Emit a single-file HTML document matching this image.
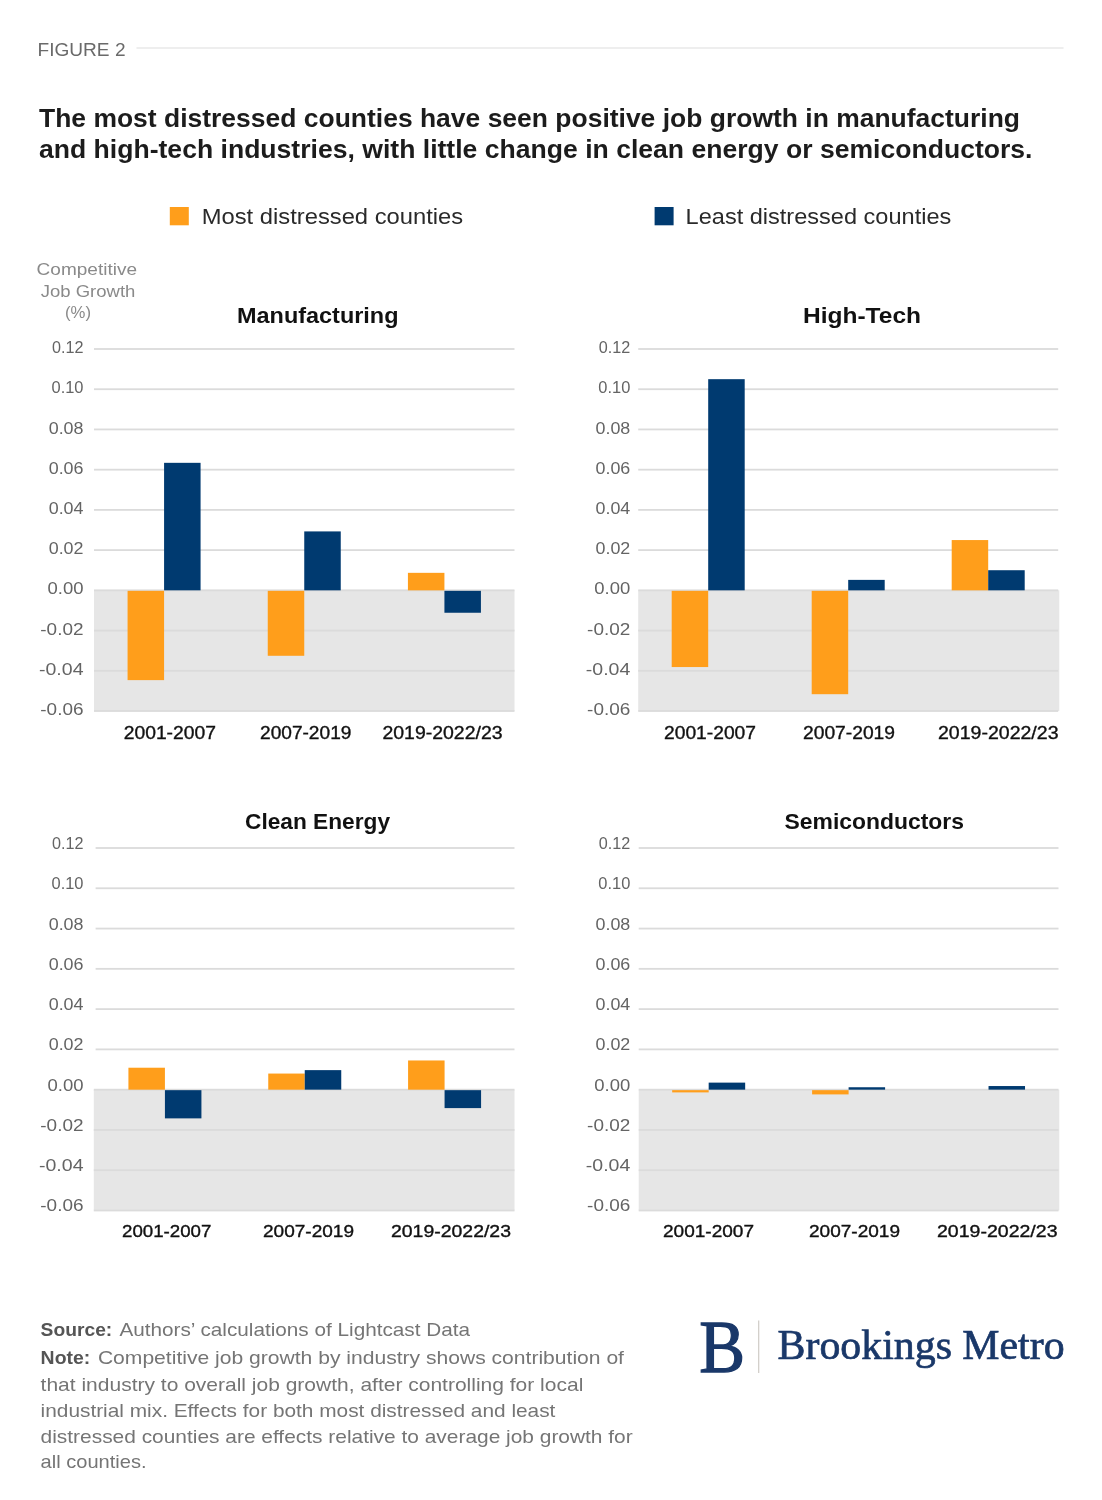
<!DOCTYPE html>
<html lang="en"><head><meta charset="utf-8"><title>Figure 2</title>
<style>html,body{margin:0;padding:0;background:#fff}svg{display:block}</style></head>
<body>
<svg width="1102" height="1500" viewBox="0 0 1102 1500">
<rect width="1102" height="1500" fill="#ffffff"/>
<text x="37.5" y="56" font-family='"Liberation Sans", sans-serif' font-size="18.7" font-weight="normal" fill="#6a6a6a" text-anchor="start" textLength="88" lengthAdjust="spacingAndGlyphs">FIGURE 2</text>
<rect x="136.50" y="47.00" width="927.00" height="2.00" fill="#EEEEEE"/>
<text x="39" y="127.3" font-family='"Liberation Sans", sans-serif' font-size="26" font-weight="bold" fill="#1c1c1c" text-anchor="start" textLength="981" lengthAdjust="spacingAndGlyphs">The most distressed counties have seen positive job growth in manufacturing</text>
<text x="39" y="158.2" font-family='"Liberation Sans", sans-serif' font-size="26" font-weight="bold" fill="#1c1c1c" text-anchor="start" textLength="993.5" lengthAdjust="spacingAndGlyphs">and high-tech industries, with little change in clean energy or semiconductors.</text>
<rect x="169.80" y="207.00" width="19.00" height="18.30" fill="#FF9E1B"/>
<text x="201.7" y="224.3" font-family='"Liberation Sans", sans-serif' font-size="21.5" font-weight="normal" fill="#2a2a2a" text-anchor="start" textLength="261.5" lengthAdjust="spacingAndGlyphs">Most distressed counties</text>
<rect x="654.60" y="207.00" width="19.00" height="18.30" fill="#003A70"/>
<text x="685.6" y="224.3" font-family='"Liberation Sans", sans-serif' font-size="21.5" font-weight="normal" fill="#2a2a2a" text-anchor="start" textLength="265.7" lengthAdjust="spacingAndGlyphs">Least distressed counties</text>
<text x="36.6" y="274.8" font-family='"Liberation Sans", sans-serif' font-size="17" font-weight="normal" fill="#8a8a8a" text-anchor="start" textLength="100.4" lengthAdjust="spacingAndGlyphs">Competitive</text>
<text x="40.7" y="296.5" font-family='"Liberation Sans", sans-serif' font-size="17" font-weight="normal" fill="#8a8a8a" text-anchor="start" textLength="94.7" lengthAdjust="spacingAndGlyphs">Job Growth</text>
<text x="65" y="317.6" font-family='"Liberation Sans", sans-serif' font-size="17" font-weight="normal" fill="#8a8a8a" text-anchor="start" textLength="26" lengthAdjust="spacingAndGlyphs">(%)</text>
<rect x="94.00" y="590.33" width="420.50" height="120.67" fill="#E6E6E6"/>
<rect x="94.00" y="348.10" width="420.50" height="1.80" fill="#DBDBDB"/>
<text x="52.0" y="353.1" font-family='"Liberation Sans", sans-serif' font-size="17.3" font-weight="normal" fill="#646464" text-anchor="start" textLength="31.5" lengthAdjust="spacingAndGlyphs">0.12</text>
<rect x="94.00" y="388.32" width="420.50" height="1.80" fill="#DBDBDB"/>
<text x="51.5" y="393.3" font-family='"Liberation Sans", sans-serif' font-size="17.3" font-weight="normal" fill="#646464" text-anchor="start" textLength="32" lengthAdjust="spacingAndGlyphs">0.10</text>
<rect x="94.00" y="428.54" width="420.50" height="1.80" fill="#DBDBDB"/>
<text x="48.7" y="433.5" font-family='"Liberation Sans", sans-serif' font-size="17.3" font-weight="normal" fill="#646464" text-anchor="start" textLength="34.8" lengthAdjust="spacingAndGlyphs">0.08</text>
<rect x="94.00" y="468.77" width="420.50" height="1.80" fill="#DBDBDB"/>
<text x="48.7" y="473.8" font-family='"Liberation Sans", sans-serif' font-size="17.3" font-weight="normal" fill="#646464" text-anchor="start" textLength="34.8" lengthAdjust="spacingAndGlyphs">0.06</text>
<rect x="94.00" y="508.99" width="420.50" height="1.80" fill="#DBDBDB"/>
<text x="48.7" y="514.0" font-family='"Liberation Sans", sans-serif' font-size="17.3" font-weight="normal" fill="#646464" text-anchor="start" textLength="34.8" lengthAdjust="spacingAndGlyphs">0.04</text>
<rect x="94.00" y="549.21" width="420.50" height="1.80" fill="#DBDBDB"/>
<text x="48.7" y="554.2" font-family='"Liberation Sans", sans-serif' font-size="17.3" font-weight="normal" fill="#646464" text-anchor="start" textLength="34.8" lengthAdjust="spacingAndGlyphs">0.02</text>
<rect x="94.00" y="589.43" width="420.50" height="1.80" fill="#DBDBDB"/>
<text x="47.5" y="594.4" font-family='"Liberation Sans", sans-serif' font-size="17.3" font-weight="normal" fill="#646464" text-anchor="start" textLength="36" lengthAdjust="spacingAndGlyphs">0.00</text>
<rect x="94.00" y="629.66" width="420.50" height="1.80" fill="#DBDBDB"/>
<text x="40.3" y="634.7" font-family='"Liberation Sans", sans-serif' font-size="17.3" font-weight="normal" fill="#646464" text-anchor="start" textLength="43.2" lengthAdjust="spacingAndGlyphs">-0.02</text>
<rect x="94.00" y="669.88" width="420.50" height="1.80" fill="#DBDBDB"/>
<text x="39.0" y="674.9" font-family='"Liberation Sans", sans-serif' font-size="17.3" font-weight="normal" fill="#646464" text-anchor="start" textLength="44.5" lengthAdjust="spacingAndGlyphs">-0.04</text>
<rect x="94.00" y="710.10" width="420.50" height="1.80" fill="#DBDBDB"/>
<text x="40.3" y="715.1" font-family='"Liberation Sans", sans-serif' font-size="17.3" font-weight="normal" fill="#646464" text-anchor="start" textLength="43.2" lengthAdjust="spacingAndGlyphs">-0.06</text>
<rect x="127.58" y="590.83" width="36.50" height="89.29" fill="#FF9E1B"/>
<rect x="164.08" y="462.83" width="36.50" height="127.50" fill="#003A70"/>
<rect x="267.75" y="590.83" width="36.50" height="64.96" fill="#FF9E1B"/>
<rect x="304.25" y="531.41" width="36.50" height="58.93" fill="#003A70"/>
<rect x="407.92" y="572.84" width="36.50" height="17.50" fill="#FF9E1B"/>
<rect x="444.42" y="590.83" width="36.50" height="21.92" fill="#003A70"/>
<text x="237" y="323" font-family='"Liberation Sans", sans-serif' font-size="22" font-weight="bold" fill="#111" text-anchor="start" textLength="161.5" lengthAdjust="spacingAndGlyphs">Manufacturing</text>
<text x="123.7" y="738.5" font-family='"Liberation Sans", sans-serif' font-size="17.5" font-weight="normal" fill="#111" text-anchor="start" textLength="92.3" lengthAdjust="spacingAndGlyphs" stroke="#111" stroke-width="0.35">2001-2007</text>
<text x="260" y="738.5" font-family='"Liberation Sans", sans-serif' font-size="17.5" font-weight="normal" fill="#111" text-anchor="start" textLength="91.39999999999998" lengthAdjust="spacingAndGlyphs" stroke="#111" stroke-width="0.35">2007-2019</text>
<text x="382.4" y="738.5" font-family='"Liberation Sans", sans-serif' font-size="17.5" font-weight="normal" fill="#111" text-anchor="start" textLength="120.20000000000005" lengthAdjust="spacingAndGlyphs" stroke="#111" stroke-width="0.35">2019-2022/23</text>
<rect x="638.20" y="590.33" width="421.10" height="120.67" fill="#E6E6E6"/>
<rect x="638.20" y="348.10" width="420.00" height="1.80" fill="#DBDBDB"/>
<text x="598.8" y="353.1" font-family='"Liberation Sans", sans-serif' font-size="17.3" font-weight="normal" fill="#646464" text-anchor="start" textLength="31.5" lengthAdjust="spacingAndGlyphs">0.12</text>
<rect x="638.20" y="388.32" width="420.00" height="1.80" fill="#DBDBDB"/>
<text x="598.3" y="393.3" font-family='"Liberation Sans", sans-serif' font-size="17.3" font-weight="normal" fill="#646464" text-anchor="start" textLength="32" lengthAdjust="spacingAndGlyphs">0.10</text>
<rect x="638.20" y="428.54" width="420.00" height="1.80" fill="#DBDBDB"/>
<text x="595.5" y="433.5" font-family='"Liberation Sans", sans-serif' font-size="17.3" font-weight="normal" fill="#646464" text-anchor="start" textLength="34.8" lengthAdjust="spacingAndGlyphs">0.08</text>
<rect x="638.20" y="468.77" width="420.00" height="1.80" fill="#DBDBDB"/>
<text x="595.5" y="473.8" font-family='"Liberation Sans", sans-serif' font-size="17.3" font-weight="normal" fill="#646464" text-anchor="start" textLength="34.8" lengthAdjust="spacingAndGlyphs">0.06</text>
<rect x="638.20" y="508.99" width="420.00" height="1.80" fill="#DBDBDB"/>
<text x="595.5" y="514.0" font-family='"Liberation Sans", sans-serif' font-size="17.3" font-weight="normal" fill="#646464" text-anchor="start" textLength="34.8" lengthAdjust="spacingAndGlyphs">0.04</text>
<rect x="638.20" y="549.21" width="420.00" height="1.80" fill="#DBDBDB"/>
<text x="595.5" y="554.2" font-family='"Liberation Sans", sans-serif' font-size="17.3" font-weight="normal" fill="#646464" text-anchor="start" textLength="34.8" lengthAdjust="spacingAndGlyphs">0.02</text>
<rect x="638.20" y="589.43" width="420.00" height="1.80" fill="#DBDBDB"/>
<text x="594.3" y="594.4" font-family='"Liberation Sans", sans-serif' font-size="17.3" font-weight="normal" fill="#646464" text-anchor="start" textLength="36" lengthAdjust="spacingAndGlyphs">0.00</text>
<rect x="638.20" y="629.66" width="420.00" height="1.80" fill="#DBDBDB"/>
<text x="587.0999999999999" y="634.7" font-family='"Liberation Sans", sans-serif' font-size="17.3" font-weight="normal" fill="#646464" text-anchor="start" textLength="43.2" lengthAdjust="spacingAndGlyphs">-0.02</text>
<rect x="638.20" y="669.88" width="420.00" height="1.80" fill="#DBDBDB"/>
<text x="585.8" y="674.9" font-family='"Liberation Sans", sans-serif' font-size="17.3" font-weight="normal" fill="#646464" text-anchor="start" textLength="44.5" lengthAdjust="spacingAndGlyphs">-0.04</text>
<rect x="638.20" y="710.10" width="420.00" height="1.80" fill="#DBDBDB"/>
<text x="587.0999999999999" y="715.1" font-family='"Liberation Sans", sans-serif' font-size="17.3" font-weight="normal" fill="#646464" text-anchor="start" textLength="43.2" lengthAdjust="spacingAndGlyphs">-0.06</text>
<rect x="671.70" y="590.83" width="36.50" height="76.22" fill="#FF9E1B"/>
<rect x="708.20" y="379.17" width="36.50" height="211.17" fill="#003A70"/>
<rect x="811.70" y="590.83" width="36.50" height="103.37" fill="#FF9E1B"/>
<rect x="848.20" y="579.88" width="36.50" height="10.46" fill="#003A70"/>
<rect x="951.70" y="540.06" width="36.50" height="50.28" fill="#FF9E1B"/>
<rect x="988.20" y="570.22" width="36.50" height="20.11" fill="#003A70"/>
<text x="803" y="323" font-family='"Liberation Sans", sans-serif' font-size="22" font-weight="bold" fill="#111" text-anchor="start" textLength="118" lengthAdjust="spacingAndGlyphs">High-Tech</text>
<text x="664" y="738.5" font-family='"Liberation Sans", sans-serif' font-size="17.5" font-weight="normal" fill="#111" text-anchor="start" textLength="92" lengthAdjust="spacingAndGlyphs" stroke="#111" stroke-width="0.35">2001-2007</text>
<text x="803" y="738.5" font-family='"Liberation Sans", sans-serif' font-size="17.5" font-weight="normal" fill="#111" text-anchor="start" textLength="92" lengthAdjust="spacingAndGlyphs" stroke="#111" stroke-width="0.35">2007-2019</text>
<text x="938" y="738.5" font-family='"Liberation Sans", sans-serif' font-size="17.5" font-weight="normal" fill="#111" text-anchor="start" textLength="120.5" lengthAdjust="spacingAndGlyphs" stroke="#111" stroke-width="0.35">2019-2022/23</text>
<rect x="93.80" y="1089.67" width="420.70" height="120.83" fill="#E6E6E6"/>
<rect x="95.60" y="847.10" width="418.90" height="1.80" fill="#DBDBDB"/>
<text x="52.0" y="848.9" font-family='"Liberation Sans", sans-serif' font-size="17.3" font-weight="normal" fill="#646464" text-anchor="start" textLength="31.5" lengthAdjust="spacingAndGlyphs">0.12</text>
<rect x="95.60" y="887.38" width="418.90" height="1.80" fill="#DBDBDB"/>
<text x="51.5" y="889.2" font-family='"Liberation Sans", sans-serif' font-size="17.3" font-weight="normal" fill="#646464" text-anchor="start" textLength="32" lengthAdjust="spacingAndGlyphs">0.10</text>
<rect x="95.60" y="927.66" width="418.90" height="1.80" fill="#DBDBDB"/>
<text x="48.7" y="929.5" font-family='"Liberation Sans", sans-serif' font-size="17.3" font-weight="normal" fill="#646464" text-anchor="start" textLength="34.8" lengthAdjust="spacingAndGlyphs">0.08</text>
<rect x="95.60" y="967.93" width="418.90" height="1.80" fill="#DBDBDB"/>
<text x="48.7" y="969.7" font-family='"Liberation Sans", sans-serif' font-size="17.3" font-weight="normal" fill="#646464" text-anchor="start" textLength="34.8" lengthAdjust="spacingAndGlyphs">0.06</text>
<rect x="95.60" y="1008.21" width="418.90" height="1.80" fill="#DBDBDB"/>
<text x="48.7" y="1010.0" font-family='"Liberation Sans", sans-serif' font-size="17.3" font-weight="normal" fill="#646464" text-anchor="start" textLength="34.8" lengthAdjust="spacingAndGlyphs">0.04</text>
<rect x="95.60" y="1048.49" width="418.90" height="1.80" fill="#DBDBDB"/>
<text x="48.7" y="1050.3" font-family='"Liberation Sans", sans-serif' font-size="17.3" font-weight="normal" fill="#646464" text-anchor="start" textLength="34.8" lengthAdjust="spacingAndGlyphs">0.02</text>
<rect x="93.80" y="1088.77" width="420.70" height="1.80" fill="#DBDBDB"/>
<text x="47.5" y="1090.6" font-family='"Liberation Sans", sans-serif' font-size="17.3" font-weight="normal" fill="#646464" text-anchor="start" textLength="36" lengthAdjust="spacingAndGlyphs">0.00</text>
<rect x="93.80" y="1129.04" width="420.70" height="1.80" fill="#DBDBDB"/>
<text x="40.3" y="1130.8" font-family='"Liberation Sans", sans-serif' font-size="17.3" font-weight="normal" fill="#646464" text-anchor="start" textLength="43.2" lengthAdjust="spacingAndGlyphs">-0.02</text>
<rect x="93.80" y="1169.32" width="420.70" height="1.80" fill="#DBDBDB"/>
<text x="39.0" y="1171.1" font-family='"Liberation Sans", sans-serif' font-size="17.3" font-weight="normal" fill="#646464" text-anchor="start" textLength="44.5" lengthAdjust="spacingAndGlyphs">-0.04</text>
<rect x="93.80" y="1209.60" width="420.70" height="1.80" fill="#DBDBDB"/>
<text x="40.3" y="1211.4" font-family='"Liberation Sans", sans-serif' font-size="17.3" font-weight="normal" fill="#646464" text-anchor="start" textLength="43.2" lengthAdjust="spacingAndGlyphs">-0.06</text>
<rect x="128.42" y="1067.72" width="36.50" height="21.95" fill="#FF9E1B"/>
<rect x="164.92" y="1090.17" width="36.50" height="28.20" fill="#003A70"/>
<rect x="268.25" y="1073.56" width="36.50" height="16.11" fill="#FF9E1B"/>
<rect x="304.75" y="1070.13" width="36.50" height="19.53" fill="#003A70"/>
<rect x="408.08" y="1060.47" width="36.50" height="29.20" fill="#FF9E1B"/>
<rect x="444.58" y="1090.17" width="36.50" height="17.93" fill="#003A70"/>
<text x="245" y="829" font-family='"Liberation Sans", sans-serif' font-size="22" font-weight="bold" fill="#111" text-anchor="start" textLength="145" lengthAdjust="spacingAndGlyphs">Clean Energy</text>
<text x="122" y="1236.8" font-family='"Liberation Sans", sans-serif' font-size="16.5" font-weight="normal" fill="#111" text-anchor="start" textLength="89.4" lengthAdjust="spacingAndGlyphs" stroke="#111" stroke-width="0.35">2001-2007</text>
<text x="263" y="1236.8" font-family='"Liberation Sans", sans-serif' font-size="16.5" font-weight="normal" fill="#111" text-anchor="start" textLength="91" lengthAdjust="spacingAndGlyphs" stroke="#111" stroke-width="0.35">2007-2019</text>
<text x="391" y="1236.8" font-family='"Liberation Sans", sans-serif' font-size="16.5" font-weight="normal" fill="#111" text-anchor="start" textLength="120" lengthAdjust="spacingAndGlyphs" stroke="#111" stroke-width="0.35">2019-2022/23</text>
<rect x="638.70" y="1089.67" width="420.60" height="120.83" fill="#E6E6E6"/>
<rect x="638.70" y="847.10" width="419.80" height="1.80" fill="#DBDBDB"/>
<text x="598.8" y="848.9" font-family='"Liberation Sans", sans-serif' font-size="17.3" font-weight="normal" fill="#646464" text-anchor="start" textLength="31.5" lengthAdjust="spacingAndGlyphs">0.12</text>
<rect x="638.70" y="887.38" width="419.80" height="1.80" fill="#DBDBDB"/>
<text x="598.3" y="889.2" font-family='"Liberation Sans", sans-serif' font-size="17.3" font-weight="normal" fill="#646464" text-anchor="start" textLength="32" lengthAdjust="spacingAndGlyphs">0.10</text>
<rect x="638.70" y="927.66" width="419.80" height="1.80" fill="#DBDBDB"/>
<text x="595.5" y="929.5" font-family='"Liberation Sans", sans-serif' font-size="17.3" font-weight="normal" fill="#646464" text-anchor="start" textLength="34.8" lengthAdjust="spacingAndGlyphs">0.08</text>
<rect x="638.70" y="967.93" width="419.80" height="1.80" fill="#DBDBDB"/>
<text x="595.5" y="969.7" font-family='"Liberation Sans", sans-serif' font-size="17.3" font-weight="normal" fill="#646464" text-anchor="start" textLength="34.8" lengthAdjust="spacingAndGlyphs">0.06</text>
<rect x="638.70" y="1008.21" width="419.80" height="1.80" fill="#DBDBDB"/>
<text x="595.5" y="1010.0" font-family='"Liberation Sans", sans-serif' font-size="17.3" font-weight="normal" fill="#646464" text-anchor="start" textLength="34.8" lengthAdjust="spacingAndGlyphs">0.04</text>
<rect x="638.70" y="1048.49" width="419.80" height="1.80" fill="#DBDBDB"/>
<text x="595.5" y="1050.3" font-family='"Liberation Sans", sans-serif' font-size="17.3" font-weight="normal" fill="#646464" text-anchor="start" textLength="34.8" lengthAdjust="spacingAndGlyphs">0.02</text>
<rect x="638.70" y="1088.77" width="419.80" height="1.80" fill="#DBDBDB"/>
<text x="594.3" y="1090.6" font-family='"Liberation Sans", sans-serif' font-size="17.3" font-weight="normal" fill="#646464" text-anchor="start" textLength="36" lengthAdjust="spacingAndGlyphs">0.00</text>
<rect x="638.70" y="1129.04" width="419.80" height="1.80" fill="#DBDBDB"/>
<text x="587.0999999999999" y="1130.8" font-family='"Liberation Sans", sans-serif' font-size="17.3" font-weight="normal" fill="#646464" text-anchor="start" textLength="43.2" lengthAdjust="spacingAndGlyphs">-0.02</text>
<rect x="638.70" y="1169.32" width="419.80" height="1.80" fill="#DBDBDB"/>
<text x="585.8" y="1171.1" font-family='"Liberation Sans", sans-serif' font-size="17.3" font-weight="normal" fill="#646464" text-anchor="start" textLength="44.5" lengthAdjust="spacingAndGlyphs">-0.04</text>
<rect x="638.70" y="1209.60" width="419.80" height="1.80" fill="#DBDBDB"/>
<text x="587.0999999999999" y="1211.4" font-family='"Liberation Sans", sans-serif' font-size="17.3" font-weight="normal" fill="#646464" text-anchor="start" textLength="43.2" lengthAdjust="spacingAndGlyphs">-0.06</text>
<rect x="672.17" y="1090.17" width="36.50" height="2.22" fill="#FF9E1B"/>
<rect x="708.67" y="1082.62" width="36.50" height="7.05" fill="#003A70"/>
<rect x="812.10" y="1090.17" width="36.50" height="4.23" fill="#FF9E1B"/>
<rect x="848.60" y="1087.25" width="36.50" height="2.42" fill="#003A70"/>
<rect x="988.53" y="1086.04" width="36.50" height="3.62" fill="#003A70"/>
<text x="784.5" y="829" font-family='"Liberation Sans", sans-serif' font-size="22" font-weight="bold" fill="#111" text-anchor="start" textLength="179.5" lengthAdjust="spacingAndGlyphs">Semiconductors</text>
<text x="663" y="1236.8" font-family='"Liberation Sans", sans-serif' font-size="16.5" font-weight="normal" fill="#111" text-anchor="start" textLength="91" lengthAdjust="spacingAndGlyphs" stroke="#111" stroke-width="0.35">2001-2007</text>
<text x="809" y="1236.8" font-family='"Liberation Sans", sans-serif' font-size="16.5" font-weight="normal" fill="#111" text-anchor="start" textLength="91" lengthAdjust="spacingAndGlyphs" stroke="#111" stroke-width="0.35">2007-2019</text>
<text x="937" y="1236.8" font-family='"Liberation Sans", sans-serif' font-size="16.5" font-weight="normal" fill="#111" text-anchor="start" textLength="120.5" lengthAdjust="spacingAndGlyphs" stroke="#111" stroke-width="0.35">2019-2022/23</text>
<text x="40.6" y="1336" font-family='"Liberation Sans", sans-serif' font-size="18.6" font-weight="bold" fill="#555" text-anchor="start" textLength="71.7" lengthAdjust="spacingAndGlyphs">Source:</text>
<text x="119.4" y="1336" font-family='"Liberation Sans", sans-serif' font-size="18.6" font-weight="normal" fill="#757575" text-anchor="start" textLength="350.6" lengthAdjust="spacingAndGlyphs">Authors’ calculations of Lightcast Data</text>
<text x="40.6" y="1364" font-family='"Liberation Sans", sans-serif' font-size="18.6" font-weight="bold" fill="#555" text-anchor="start" textLength="49.7" lengthAdjust="spacingAndGlyphs">Note:</text>
<text x="97.9" y="1364" font-family='"Liberation Sans", sans-serif' font-size="18.6" font-weight="normal" fill="#757575" text-anchor="start" textLength="526.1" lengthAdjust="spacingAndGlyphs">Competitive job growth by industry shows contribution of</text>
<text x="40.6" y="1390.5" font-family='"Liberation Sans", sans-serif' font-size="18.6" font-weight="normal" fill="#757575" text-anchor="start" textLength="542.6999999999999" lengthAdjust="spacingAndGlyphs">that industry to overall job growth, after controlling for local</text>
<text x="40.6" y="1416.5" font-family='"Liberation Sans", sans-serif' font-size="18.6" font-weight="normal" fill="#757575" text-anchor="start" textLength="514.8" lengthAdjust="spacingAndGlyphs">industrial mix. Effects for both most distressed and least</text>
<text x="40.6" y="1443" font-family='"Liberation Sans", sans-serif' font-size="18.6" font-weight="normal" fill="#757575" text-anchor="start" textLength="592.1" lengthAdjust="spacingAndGlyphs">distressed counties are effects relative to average job growth for</text>
<text x="40.6" y="1468" font-family='"Liberation Sans", sans-serif' font-size="18.6" font-weight="normal" fill="#757575" text-anchor="start" textLength="106.0" lengthAdjust="spacingAndGlyphs">all counties.</text>
<text x="699.2" y="1372.2" font-family='"Liberation Serif", serif' font-size="74.5" font-weight="normal" fill="#1A3869" text-anchor="start" textLength="45.8" lengthAdjust="spacingAndGlyphs" stroke="#1A3869" stroke-width="1.3">B</text>
<rect x="758.10" y="1320.50" width="1.20" height="52.50" fill="#CFCBC6"/>
<text x="777.6" y="1359.2" font-family='"Liberation Serif", serif' font-size="42" font-weight="normal" fill="#1A3869" text-anchor="start" textLength="287" lengthAdjust="spacingAndGlyphs" stroke="#1A3869" stroke-width="0.7">Brookings Metro</text>
</svg>
</body></html>
